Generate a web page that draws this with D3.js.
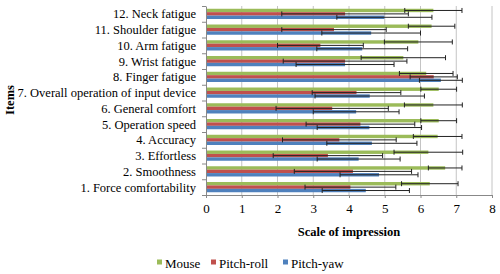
<!DOCTYPE html>
<html>
<head>
<meta charset="utf-8">
<script src="https://cdn.jsdelivr.net/npm/d3@7"></script>
<style>
  body { margin: 0; background: #fff; }
</style>
</head>
<body>
<svg width="500" height="274"></svg>
<script>
let items = ['1. Force comfortability', '2. Smoothness', '3. Effortless', '4. Accuracy',
  '5. Operation speed', '6. General comfort', '7. Overall operation of input device',
  '8. Finger fatigue', '9. Wrist fatigue', '10. Arm fatigue', '11. Shoulder fatigue', '12. Neck fatigue']
let seriesNames = ['Mouse', 'Pitch-roll', 'Pitch-yaw']
let mouse = [6.26, 6.69, 6.22, 6.48, 6.51, 6.36, 6.51, 6.16, 5.52, 5.94, 6.31, 6.36]
let mouseErr = [0.79, 0.47, 0.96, 0.68, 0.5, 0.81, 0.5, 0.75, 1.18, 0.95, 0.65, 0.8]
let pitchRoll = [4.04, 4.11, 3.41, 3.73, 4.32, 3.53, 4.21, 6.37, 3.89, 3.2, 3.58, 3.89]
let pitchRollErr = [1.27, 1.64, 1.53, 1.59, 1.52, 1.57, 1.24, 0.66, 1.73, 1.2, 1.46, 1.77]
let pitchYaw = [4.47, 4.84, 4.27, 4.64, 4.57, 4.2, 4.58, 6.57, 3.89, 4.37, 4.62, 4.99]
let pitchYawErr = [1.22, 1.09, 1.16, 1.26, 1.46, 1.2, 1.53, 0.6, 1.37, 1.27, 1.38, 1.33]
let xTicks = [0, 1, 2, 3, 4, 5, 6, 7, 8]

let colors = ['#9bbb59', '#c0504d', '#4f81bd']
let values = [mouse, pitchRoll, pitchYaw]
let errors = [mouseErr, pitchRollErr, pitchYawErr]

let serif = "'Liberation Serif', 'Times New Roman', Times, serif"
let plotLeft = 206, plotRight = 492, plotTop = 6, plotBottom = 195

let svg = d3.select('svg')
    .style('font-family', serif)

let xScale = d3.scaleLinear()
                .domain([0, 8])
                .range([plotLeft, plotRight])

let yScale = d3.scaleBand()
                .domain(items.slice().reverse())
                .range([plotTop, plotBottom])
                .paddingInner(0.35)
                .paddingOuter(0.175)

let inner = d3.scaleBand()
                .domain(seriesNames)
                .range([0, yScale.bandwidth()])

// gridlines
svg.append('g')
  .selectAll('line')
  .data(xTicks.slice(1))
  .enter()
  .append('line')
    .attr('x1', d => xScale(d))
    .attr('x2', d => xScale(d))
    .attr('y1', plotTop)
    .attr('y2', plotBottom)
    .attr('stroke', '#c4c4c4')
    .attr('stroke-width', 1)

let rows = []
items.forEach((item, i) => {
  seriesNames.forEach((s, j) => {
    rows.push({ item, series: s, value: values[j][i], err: errors[j][i], color: colors[j] })
  })
})

svg.append('g')
  .selectAll('rect')
  .data(rows)
  .enter()
  .append('rect')
    .attr('x', xScale(0))
    .attr('y', d => yScale(d.item) + inner(d.series))
    .attr('width', d => xScale(d.value) - xScale(0))
    .attr('height', inner.bandwidth())
    .attr('fill', d => d.color)

// error bars
let barMid = d => yScale(d.item) + inner(d.series) + inner.bandwidth() / 2

let eb = svg.append('g')
  .selectAll('g')
  .data(rows)
  .enter()
  .append('g')
    .attr('stroke', '#222')
    .attr('stroke-width', 1)

eb.append('line')
    .attr('x1', d => xScale(d.value - d.err))
    .attr('x2', d => xScale(d.value + d.err))
    .attr('y1', barMid)
    .attr('y2', barMid)

eb.selectAll('.cap')
  .data(d => [d.value - d.err, d.value + d.err].map(v => ({ v, d })))
  .enter()
  .append('line')
    .attr('class', 'cap')
    .attr('x1', c => xScale(c.v))
    .attr('x2', c => xScale(c.v))
    .attr('y1', c => barMid(c.d) - 2.5)
    .attr('y2', c => barMid(c.d) + 2.5)

// axes
let xAxis = d3.axisBottom(xScale)
              .tickValues(xTicks)
              .tickSize(3)
              .tickSizeOuter(0)
              .tickPadding(6)

let yAxis = d3.axisLeft(d3.scaleLinear().domain([0, items.length]).range([plotBottom, plotTop]))
              .tickValues(d3.range(items.length + 1))
              .tickSize(4)
              .tickSizeOuter(0)
              .tickFormat('')

let gx = svg.append('g')
    .attr('transform', `translate(0, ${plotBottom})`)
    .call(xAxis)
    .attr('font-family', serif)
    .attr('font-size', 13)
gx.selectAll('text').attr('fill', '#000')
gx.selectAll('path, line').attr('stroke', '#888')

let gy = svg.append('g')
    .attr('transform', `translate(${plotLeft}, 0)`)
    .call(yAxis)
gy.selectAll('path, line').attr('stroke', '#888')

svg.append('g')
  .selectAll('text')
  .data(items)
  .enter()
  .append('text')
    .attr('x', plotLeft - 10)
    .attr('y', d => yScale(d) + yScale.bandwidth() / 2)
    .attr('dy', '0.35em')
    .style('text-anchor', 'end')
    .style('font-family', serif)
    .style('font-size', '12.5px')
    .text(d => d)

svg.append('text')
    .attr('x', 349)
    .attr('y', 236)
    .style('text-anchor', 'middle')
    .style('font-family', serif)
    .style('font-size', '12.5px')
    .style('font-weight', 'bold')
    .text('Scale of impression')

svg.append('text')
    .attr('transform', 'rotate(-90)')
    .attr('x', -100)
    .attr('y', 14)
    .style('text-anchor', 'middle')
    .style('font-family', serif)
    .style('font-size', '12.5px')
    .style('font-weight', 'bold')
    .text('Items')

// legend
let legendX = [157, 211, 283]
let legend = svg.append('g')
  .selectAll('g')
  .data(seriesNames)
  .enter()
  .append('g')
    .attr('transform', (d, i) => `translate(${legendX[i]}, 263)`)

legend.append('rect')
    .attr('x', 0)
    .attr('y', -3.5)
    .attr('width', 5)
    .attr('height', 5)
    .attr('fill', (d, i) => colors[i])

legend.append('text')
    .attr('x', 8)
    .attr('y', 0)
    .attr('dy', '0.35em')
    .style('font-family', serif)
    .style('font-size', '13px')
    .text(d => d)
</script>
</body>
</html>
